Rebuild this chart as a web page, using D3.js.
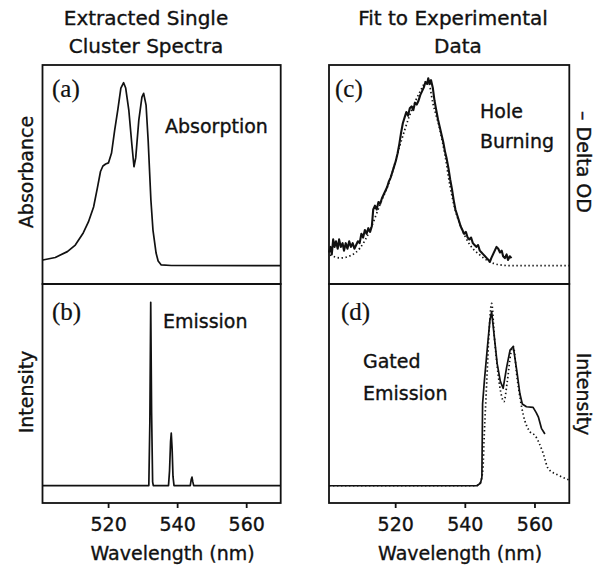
<!DOCTYPE html>
<html>
<head>
<meta charset="utf-8">
<script src="https://cdn.jsdelivr.net/npm/d3@7"></script>
<style>
  body { margin: 0; background: #fff; }
  text { font-family: "DejaVu Sans", sans-serif; fill: #111; stroke: #111; stroke-width: 0.35px; }
  .plab { font-family: "Liberation Serif", serif; stroke-width: 0.2px; }
</style>
</head>
<body>
<script>
  // wavelength (nm), value
  var absorption = [[501.1,0.031],[504.7,0.045],[508.2,0.077],[510.5,0.113],[512.8,0.179],[514.3,0.239],
    [515.8,0.321],[516.9,0.425],[517.8,0.515],[518.5,0.545],[519.3,0.556],[520.1,0.562],[521.0,0.616],
    [521.9,0.74],[522.8,0.851],[523.7,0.971],[524.5,1.0],[525.1,0.971],[526.0,0.851],[526.9,0.66],
    [527.5,0.541],[528.0,0.589],[528.9,0.796],[529.8,0.922],[530.3,0.942],[531.0,0.878],[531.6,0.687],
    [532.4,0.359],[533.0,0.195],[533.9,0.069],[534.5,0.026],[535.4,0.004],[538.3,0.001],[570,0]];

  var emission = [[501,0],[531.8,0],[532.1,0.35],[532.35,1.0],[532.6,0.4],[532.9,0.02],[533.1,0],
    [537.5,0],[537.8,0.08],[538.1,0.24],[538.3,0.286],[538.55,0.2],[538.8,0.05],[539.1,0],
    [543.8,0],[544.1,0.035],[544.3,0.046],[544.55,0.02],[544.8,0],[570,0]];

  var holeBurning = [[501.0,0.07],[501.4,0.10],[501.8,0.06],[502.2,0.14],[502.6,0.10],[503.0,0.13],[503.5,0.09],
    [503.9,0.14],[504.4,0.10],[504.9,0.12],[505.3,0.08],[505.8,0.12],[506.3,0.09],[506.8,0.13],[507.3,0.10],
    [507.8,0.12],[508.3,0.09],[508.8,0.11],[509.3,0.13],[509.8,0.12],[510.3,0.17],[510.8,0.15],[511.3,0.19],
    [511.8,0.17],[512.3,0.20],[512.8,0.18],[513.3,0.21],[513.7,0.30],[514.2,0.32],[514.7,0.30],[515.2,0.34],
    [515.7,0.33],[516.2,0.36],[516.7,0.38],[517.2,0.40],[517.7,0.42],[518.2,0.45],[518.7,0.47],[519.2,0.50],
    [519.7,0.53],[520.2,0.56],[520.7,0.60],[521.2,0.65],[521.7,0.71],[522.2,0.76],[522.7,0.79],[523.2,0.82],
    [523.7,0.80],[524.2,0.84],[524.7,0.85],[525.2,0.83],[525.7,0.87],[526.2,0.86],[526.7,0.88],[527.2,0.91],
    [527.7,0.93],[528.2,0.95],[528.7,0.98],[529.2,0.97],[529.5,1.0],[529.9,0.97],[530.3,0.99],[530.8,0.95],
    [531.3,0.88],[531.8,0.83],[532.3,0.78],[532.8,0.74],[533.3,0.70],[533.8,0.66],[534.3,0.61],[534.8,0.57],
    [535.3,0.52],[535.8,0.46],[536.3,0.41],[536.8,0.35],[537.3,0.30],[537.8,0.27],[538.3,0.24],[538.8,0.21],
    [539.3,0.19],[539.8,0.17],[540.3,0.18],[540.8,0.15],[541.3,0.14],[541.8,0.15],[542.3,0.12],[542.8,0.11],
    [543.3,0.10],[543.8,0.11],[544.3,0.08],[544.8,0.07],[545.3,0.06],[545.8,0.05],[546.3,0.04],[546.8,0.03],
    [547.2,0.02],[547.6,0.04],[548.1,0.06],[548.6,0.08],[549.1,0.10],[549.6,0.09],[550.1,0.07],[550.6,0.08],
    [551.0,0.05],[551.5,0.04],[552.0,0.06],[552.4,0.03],[552.9,0.05],[553.4,0.04]];

  var holeBurningFit = [[501.3,0.057],[504.2,0.041],[507.0,0.052],[509.9,0.094],[512.8,0.19],[515.6,0.324],
    [518.5,0.457],[521.4,0.644],[524.2,0.804],[527.1,0.927],[529.4,0.99],[530.8,0.87],[532.9,0.72],
    [534.3,0.59],[535.7,0.43],[537.2,0.30],[538.6,0.22],[541.5,0.11],[544.3,0.057],[547.2,0.02],
    [550.1,0.004],[552.9,0],[570,0]];

  var gatedEmission = [[501,0],[543.4,0],[544.5,0.014],[544.9,0.05],[545.1,0.47],[545.6,0.6],[546.5,0.8],
    [547.2,0.95],[547.7,1.0],[548.5,0.85],[549.3,0.7],[550.2,0.6],[551.0,0.56],[552.0,0.68],[553.0,0.78],
    [553.9,0.80],[555.0,0.65],[555.8,0.53],[556.5,0.47],[557.7,0.454],[559.6,0.45],[560.5,0.42],
    [561.1,0.396],[562.0,0.33],[563.0,0.297]];

  var gatedEmissionFit = [[501,0],[543.4,0],[544.5,0.02],[545.2,0.1],[545.6,0.3],[546.3,0.6],[547.0,0.9],
    [547.7,1.048],[548.5,0.85],[549.5,0.65],[550.5,0.52],[551.2,0.483],[552.2,0.6],[553.2,0.76],
    [553.9,0.80],[555.0,0.62],[556.8,0.406],[558.7,0.31],[560.1,0.29],[562.5,0.186],[563.9,0.1],
    [566.8,0.061],[570,0.033]];

  var tickValues = [520, 540, 560];
  var xDomain = [501, 570];

  var width = 600, height = 567;
  var svg = d3.select("body").append("svg")
    .attr("width", width)
    .attr("height", height);

  var left = [42.5, 280.7], right = [329, 569.3];
  var topR = [284, 65], botR = [503, 284];

  var panels = [
    { id: "a", xr: left,  yr: topR, yd: [-0.1, 1.097],   solid: absorption },
    { id: "b", xr: left,  yr: botR, yd: [-0.095, 1.1],   solid: emission, axis: true },
    { id: "c", xr: right, yr: topR, yd: [-0.098, 1.071], solid: holeBurning, dotted: holeBurningFit },
    { id: "d", xr: right, yr: botR, yd: [-0.099, 1.159], solid: gatedEmission, dotted: gatedEmissionFit, axis: true }
  ];

  panels.forEach(function(p) {
    var x = d3.scaleLinear().domain(xDomain).range(p.xr);
    var y = d3.scaleLinear().domain(p.yd).range(p.yr);
    var line = d3.line()
      .x(function(d) { return x(d[0]); })
      .y(function(d) { return y(d[1]); });

    if (p.dotted) {
      svg.append("path")
        .datum(p.dotted)
        .attr("d", line.curve(d3.curveMonotoneX))
        .attr("fill", "none")
        .attr("stroke", "#111")
        .attr("stroke-width", 1.7)
        .attr("stroke-dasharray", "1.4,2.6");
    }

    svg.append("path")
      .datum(p.solid)
      .attr("d", line.curve(d3.curveLinear))
      .attr("fill", "none")
      .attr("stroke", "#111")
      .attr("stroke-width", p.id == "c" ? 2.1 : 1.7)
      .attr("stroke-linejoin", "round");

    // frame
    svg.append("rect")
      .attr("x", p.xr[0]).attr("y", p.yr[1])
      .attr("width", p.xr[1] - p.xr[0])
      .attr("height", p.yr[0] - p.yr[1])
      .attr("fill", "none")
      .attr("stroke", "#111")
      .attr("stroke-width", 1.8);

    if (p.axis) {
      var ax = svg.append("g")
        .attr("transform", "translate(0," + p.yr[0] + ")")
        .call(d3.axisBottom(x).tickValues(tickValues).tickSize(5).tickSizeOuter(0));
      ax.select(".domain").remove();
      ax.selectAll("line").attr("stroke", "#111").attr("stroke-width", 1.8);
      ax.selectAll("text")
        .attr("y", 28).attr("dy", 0)
        .style("font-family", "DejaVu Sans, sans-serif")
        .style("font-size", "19px")
        .attr("fill", "#111");
      svg.append("text")
        .attr("x", (p.xr[0] + p.xr[1]) / 2 + 11)
        .attr("y", 560)
        .attr("text-anchor", "middle")
        .attr("font-size", "19px")
        .text("Wavelength (nm)");
    }
  });

  // column titles
  var titles = [
    [146, 25, "Extracted Single"], [146, 53, "Cluster Spectra"],
    [453, 25, "Fit to Experimental"], [458, 53, "Data"]
  ];
  svg.selectAll(".title").data(titles).enter().append("text")
    .attr("class", "title")
    .attr("x", function(d) { return d[0]; })
    .attr("y", function(d) { return d[1]; })
    .attr("text-anchor", "middle")
    .attr("font-size", "20px")
    .text(function(d) { return d[2]; });

  // panel letters
  var letters = [[52, 97, "(a)"], [52, 320, "(b)"], [335, 97, "(c)"], [341, 320, "(d)"]];
  svg.selectAll(".plab").data(letters).enter().append("text")
    .attr("class", "plab")
    .attr("x", function(d) { return d[0]; })
    .attr("y", function(d) { return d[1]; })
    .attr("font-size", "25px")
    .text(function(d) { return d[2]; });

  // annotations inside panels
  var notes = [[165, 133, "Absorption"], [163, 328, "Emission"], [480, 118, "Hole"], [480, 148, "Burning"],
               [363, 368, "Gated"], [363, 400, "Emission"]];
  svg.selectAll(".note").data(notes).enter().append("text")
    .attr("class", "note")
    .attr("x", function(d) { return d[0]; })
    .attr("y", function(d) { return d[1]; })
    .attr("font-size", "19px")
    .text(function(d) { return d[2]; });

  // y titles
  svg.append("text")
    .attr("transform", "translate(33,172) rotate(-90)")
    .attr("text-anchor", "middle").attr("font-size", "19px")
    .text("Absorbance");
  svg.append("text")
    .attr("transform", "translate(33,392) rotate(-90)")
    .attr("text-anchor", "middle").attr("font-size", "19px")
    .text("Intensity");
  svg.append("text")
    .attr("transform", "translate(577,162) rotate(90)")
    .attr("text-anchor", "middle").attr("font-size", "19px")
    .text("\u2013 Delta OD");
  svg.append("text")
    .attr("transform", "translate(577,394) rotate(90)")
    .attr("text-anchor", "middle").attr("font-size", "19px")
    .text("Intensity");
</script>
</body>
</html>
